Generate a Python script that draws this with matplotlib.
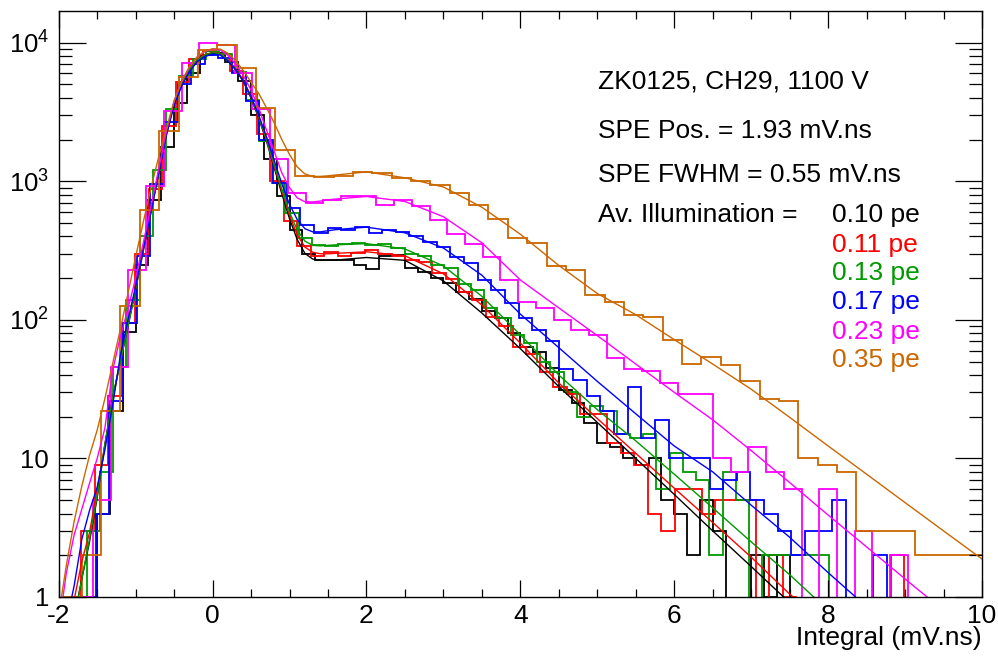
import numpy as np
import matplotlib
matplotlib.use("Agg")
import matplotlib.pyplot as plt
from matplotlib.ticker import FixedLocator, LogLocator, FuncFormatter, NullFormatter

plt.rcParams['font.family'] = ['Liberation Sans', 'DejaVu Sans']
plt.rcParams['mathtext.fontset'] = 'custom'
plt.rcParams['mathtext.rm'] = 'Liberation Sans'
plt.rcParams['mathtext.it'] = 'Liberation Sans:italic'

# Series labels and colours (illumination in pe)
labels = ["0.10 pe", "0.11 pe", "0.13 pe", "0.17 pe", "0.23 pe", "0.35 pe"]
colors = ["black", "#ff0000", "#009900", "#0000ff", "#ff00ff", "#cc6600"]

# Histogram binning (first edge, bin width) per series, in mV.ns
bin_start = [-2.0, -1.881, -1.808, -1.874, -1.784, -1.952]
bin_width = [1 / 6, 0.1753, 0.1722, 0.1773, 0.2302, 0.2517]

# Histogram contents
counts_010 = [0, 0, 1, 4, 22, 82, 250, 735, 1780, 3670, 6040, 8200, 8400, 7300, 5280,
              3020, 1460, 780, 445, 300, 271, 271, 271, 250, 232, 287, 295, 236, 223,
              200, 184, 160, 141, 115, 103, 80, 64, 59, 45, 31, 25, 18, 13, 12, 10, 9,
              10, 5, 4, 2, 5, 3, 0, 0, 2, 1, 2, 0]
counts_011 = [1, 3, 9, 28, 95, 300, 880, 2500, 5200, 7600, 8700, 8300, 6300, 4300,
              2200, 1000, 520, 340, 290, 310, 290, 305, 318, 300, 290, 270, 262, 218,
              196, 158, 140, 105, 90, 64, 57, 42, 33, 29, 21, 21, 13, 11, 9, 4, 3, 6, 6,
              4, 5, 5, 5, 0, 2, 1, 0, 0, 0, 0, 0, 0, 0, 2, 0]
counts_013 = [1, 3, 8, 46, 140, 400, 1200, 3300, 5800, 7600, 8700, 8300, 6100, 3870,
              1940, 970, 590, 390, 345, 340, 352, 360, 345, 355, 330, 300, 290, 250,
              235, 182, 165, 122, 104, 78, 68, 50, 42, 30, 20, 24, 22, 15, 14, 15, 6,
              11, 8, 7, 2, 8, 5, 0, 2, 2, 2, 2, 2, 0]
counts_017 = [0, 1, 4, 26, 95, 290, 950, 2700, 5000, 7000, 8200, 7800, 6000, 3800,
              2000, 970, 640, 480, 422, 459, 445, 470, 422, 445, 430, 400, 367, 338,
              283, 256, 195, 164, 132, 103, 84, 70, 44, 37, 28, 22, 15, 33, 14, 19, 10,
              10, 10, 6, 7, 8, 5, 4, 3, 2, 3, 3, 5, 0, 0, 2, 0]
counts_023 = [1, 5, 46, 230, 920, 3200, 7100, 10000, 9600, 6000, 3300, 1440, 820, 700,
              735, 778, 777, 675, 735, 660, 525, 420, 354, 283, 195, 135, 121, 100, 85,
              78, 53, 44, 43, 35, 29, 29, 10, 8, 12, 8, 6, 0, 6, 0, 3, 0, 2, 0]
counts_035 = [1, 2, 22, 126, 622, 2290, 5700, 8900, 9700, 6600, 3370, 1680, 1100, 1080,
              1100, 1160, 1150, 1060, 1000, 944, 822, 676, 533, 389, 358, 246, 230, 151,
              135, 109, 105, 72, 48, 54, 47, 36, 27, 26, 10, 9, 8, 3, 3, 3, 2, 2, 2, 2]

# Fit curves, sampled along x
fit_x = [-2.0, -1.9, -1.8, -1.7, -1.6, -1.5, -1.4, -1.3, -1.2, -1.1, -1.0, -0.9, -0.8,
         -0.7, -0.6, -0.5, -0.4, -0.3, -0.2, -0.1, 0.0, 0.1, 0.2, 0.3, 0.4, 0.5, 0.6,
         0.7, 0.8, 0.9, 1.0, 1.1, 1.2, 1.3, 1.4, 1.5, 1.6, 2.0, 2.5, 3.0, 3.5, 4.0, 4.5,
         5.0, 5.5, 6.0, 6.5, 7.0, 7.5, 8.0, 8.5, 9.0, 9.5, 10.0]
fit_010 = [0.16, 0.35, 0.7, 1.35, 2.5, 5.2, 12.6, 27, 50, 89, 166, 316, 603, 1150, 2190,
           3630, 5010, 6310, 7410, 8040, 8410, 8220, 7410, 6380, 5250, 3980, 2850, 1950,
           1260, 813, 537, 380, 302, 275, 269, 269, 270, 282, 269, 191, 112, 62, 33,
           18.2, 10, 5.5, 3.0, 1.66, 0.91, 0.5, 0.28, 0.15, 0.08, 0.045]
fit_011 = [0.2, 0.45, 0.95, 1.8, 2.9, 6.0, 12.5, 26, 50, 92, 170, 325, 620, 1180, 2230,
           3700, 5100, 6450, 7550, 8200, 8550, 8350, 7550, 6500, 5350, 4050, 2900, 1990,
           1300, 850, 570, 410, 335, 308, 300, 300, 302, 310, 290, 215, 128, 68, 35,
           19.4, 10.9, 6.1, 3.45, 1.94, 1.05, 0.6, 0.34, 0.19, 0.1, 0.06]
fit_013 = [0.15, 0.32, 0.68, 1.35, 2.6, 5.4, 12.5, 27, 50, 90, 168, 320, 610, 1160, 2200,
           3650, 5050, 6400, 7500, 8150, 8500, 8300, 7500, 6450, 5300, 4050, 2920, 2010,
           1330, 880, 600, 445, 370, 345, 342, 345, 348, 355, 325, 245, 148, 78, 40,
           22.5, 13.4, 7.7, 4.4, 2.5, 1.45, 0.8, 0.46, 0.27, 0.15, 0.09]
fit_017 = [0.35, 0.65, 1.2, 2.6, 4.2, 6.2, 11.5, 24, 55, 100, 175, 325, 610, 1150, 2150,
           3550, 4900, 6200, 7300, 7950, 8280, 8150, 7400, 6400, 5300, 4100, 3000, 2100,
           1420, 960, 680, 530, 455, 432, 432, 440, 448, 467, 425, 330, 210, 110, 63,
           36, 21, 12.3, 8.0, 4.6, 2.7, 1.5, 0.85, 0.5, 0.28, 0.16]
fit_023 = [0.6, 1.5, 2.8, 4.3, 6.6, 10, 16.5, 43, 75, 120, 200, 360, 660, 1230, 2300,
           3800, 5300, 6700, 7900, 8650, 9000, 8850, 8100, 7000, 5800, 4550, 3380, 2350,
           1650, 1150, 900, 760, 712, 710, 720, 735, 745, 777, 715, 555, 360, 194, 122,
           77, 48, 30, 19, 11.4, 6.7, 3.9, 2.3, 1.35, 0.8, 0.47]
fit_035 = [0.75, 1.7, 3.5, 6.3, 10.5, 16, 27, 48, 85, 155, 285, 510, 900, 1500, 2400,
           3800, 5300, 6700, 7900, 8700, 9050, 9000, 8400, 7400, 6300, 5200, 4300, 3400,
           2650, 2000, 1560, 1270, 1130, 1085, 1085, 1095, 1110, 1170, 1060, 910, 650,
           415, 247, 155, 109, 72, 48, 31.6, 19.8, 12.3, 7.7, 4.8, 3.0, 1.88]

all_counts = [counts_010, counts_011, counts_013, counts_017, counts_023, counts_035]
all_fits = [fit_010, fit_011, fit_013, fit_017, fit_023, fit_035]

W, H = 998, 656
fig = plt.figure(figsize=(W / 100, H / 100), dpi=100)
ax = fig.add_axes([58.7 / W, 1 - 597 / H, (982 - 58.7) / W, (597 - 11) / H])

for counts, fit, start, width, color in zip(all_counts, all_fits, bin_start, bin_width, colors):
    c = np.array(counts, dtype=float)
    edges = start + width * np.arange(len(c) + 1)
    # empty bins drop below the frame like in ROOT
    ax.stairs(np.where(c > 0, c, 0.1), edges, color=color, lw=1.3, baseline=None)
    ax.plot(fit_x, fit, color=color, lw=1.0)

ax.set_yscale('log')
ax.set_xlim(-2, 10)
ax.set_ylim(1, 16950)

# ROOT-like ticks on all four sides
ax.xaxis.set_major_locator(FixedLocator([-2, 0, 2, 4, 6, 8, 10]))
ax.xaxis.set_minor_locator(FixedLocator(np.arange(-2, 10.01, 0.5)))
ax.yaxis.set_major_locator(LogLocator(base=10, numticks=10))
ax.yaxis.set_minor_locator(LogLocator(base=10, subs=np.arange(2, 10), numticks=10))
ax.yaxis.set_minor_formatter(NullFormatter())


def ylab(v, pos):
    if v < 1.5:
        return "1"
    if v < 15:
        return "10"
    return r"$10^{%d}$" % round(np.log10(v))


ax.yaxis.set_major_formatter(FuncFormatter(ylab))
ax.xaxis.set_major_formatter(FuncFormatter(lambda v, p: "%d" % v))
ax.tick_params(axis='both', which='both', direction='in', top=True, right=True,
               width=0.9, colors='black')
ax.tick_params(axis='x', which='major', length=12, labelsize=19, pad=5)
ax.tick_params(axis='x', which='minor', length=6)
ax.tick_params(axis='y', which='major', length=19.5, labelsize=18.5, pad=7)
ax.tick_params(axis='y', which='minor', length=9.5)
for s in ax.spines.values():
    s.set_linewidth(1.0)

# axis title at the right end, under the tick labels
fig.text(982 / W, 1 - 638 / H, "Integral (mV.ns)", ha='right', va='center', fontsize=19)

# annotations
fs = 19
fig.text(598 / W, 1 - 88.3 / H, "ZK0125, CH29, 1100 V", fontsize=fs, va='baseline')
fig.text(598 / W, 1 - 138.3 / H, "SPE Pos. = 1.93 mV.ns", fontsize=fs, va='baseline')
fig.text(598 / W, 1 - 181.7 / H, "SPE FWHM = 0.55 mV.ns", fontsize=fs, va='baseline')
fig.text(598 / W, 1 - 221.7 / H, "Av. Illumination =", fontsize=fs, va='baseline')
label_y = [221.7, 251.7, 280.0, 309.3, 339.3, 366.7]
for lab, color, y in zip(labels, colors, label_y):
    fig.text(831.7 / W, 1 - y / H, lab, fontsize=fs, color=color, va='baseline')

fig.savefig("out.png", dpi=100)
